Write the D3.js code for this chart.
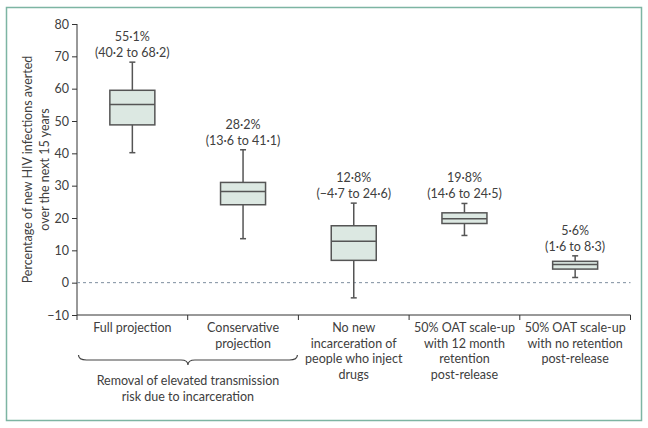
<!DOCTYPE html>
<html>
<head>
<meta charset="utf-8">
<script src="https://cdn.jsdelivr.net/npm/d3@7"></script>
<style>
  body { margin: 0; background: #fff; }
  svg text { font-family: Lato, "Open Sans", sans-serif; fill: #404040; }
</style>
</head>
<body>
<svg id="chart" width="648" height="428"></svg>
<script>
// data
const categories = [
    ["Full projection"],
    ["Conservative", "projection"],
    ["No new", "incarceration of", "people who inject", "drugs"],
    ["50% OAT scale-up", "with 12 month", "retention", "post-release"],
    ["50% OAT scale-up", "with no retention", "post-release"]
];
const medians   = [55.1, 28.2, 12.8, 19.8, 5.6];
const q1s       = [48.8, 24.1, 6.9, 18.3, 4.2];
const q3s       = [59.5, 31.0, 17.6, 21.6, 6.6];
const lows      = [40.2, 13.6, -4.7, 14.6, 1.6];
const highs     = [68.2, 41.1, 24.6, 24.5, 8.3];
const pctLabels = ["55·1%", "28·2%", "12·8%", "19·8%", "5·6%"];
const rangeLabels = ["(40·2 to 68·2)", "(13·6 to 41·1)", "(\u22124·7 to 24·6)", "(14·6 to 24·5)", "(1·6 to 8·3)"];
const yTicks = [-10, 0, 10, 20, 30, 40, 50, 60, 70, 80];
const yTitle = ["Percentage of new HIV infections averted", "over the next 15 years"];
const groupLabel = ["Removal of elevated transmission", "risk due to incarceration"];

const svg = d3.select("#chart");

// outer frame
svg.append("rect")
    .attr("x", 6.5).attr("y", 7.5).attr("width", 635).attr("height", 413)
    .attr("fill", "none").attr("stroke", "#7db5a3").attr("stroke-width", 1.5);

const x = d3.scaleBand().domain(d3.range(categories.length)).range([77, 630.5]).paddingInner(0).paddingOuter(0);
const y = d3.scaleLinear().domain([-10, 80]).range([315, 24]);

const fmt = v => (v < 0 ? "\u2212" : "") + Math.abs(v);

// y axis
const yAxis = svg.append("g").attr("transform", "translate(77,0)")
    .call(d3.axisLeft(y).tickValues(yTicks).tickSize(5).tickPadding(3).tickFormat(fmt));
yAxis.select(".domain").attr("d", `M0,${y(80)}V${y(-10) + 5}`).attr("stroke", "#333");
yAxis.selectAll(".tick line").attr("stroke", "#333");
yAxis.selectAll(".tick text")
    .attr("font-family", "Lato, sans-serif").attr("font-size", 12.5).attr("fill", "#404040");

// x axis (ticks at band boundaries)
const bounds = d3.range(categories.length + 1).map(i => i < categories.length ? x(i) : x(i - 1) + x.bandwidth());
const xg = svg.append("g");
xg.append("line")
    .attr("x1", bounds[0]).attr("x2", bounds[bounds.length - 1])
    .attr("y1", y(-10)).attr("y2", y(-10)).attr("stroke", "#333");
xg.selectAll(".xt").data(bounds.slice(1)).enter().append("line")
    .attr("x1", d => d).attr("x2", d => d)
    .attr("y1", y(-10)).attr("y2", y(-10) + 5).attr("stroke", "#333");

// zero line
svg.append("line")
    .attr("x1", 77).attr("x2", bounds[bounds.length - 1])
    .attr("y1", y(0)).attr("y2", y(0))
    .attr("stroke", "#7d8e9e").attr("stroke-width", 1).attr("stroke-dasharray", "3,3");

// y title
const yt = svg.append("text")
    .attr("transform", `translate(32,${y(35)}) rotate(-90)`)
    .attr("text-anchor", "middle").attr("font-size", 12.5);
yTitle.forEach((t, i) => yt.append("tspan").attr("x", 0).attr("dy", i === 0 ? 0 : 16.5).text(t));

// boxes
const boxW = 45, capW = 6;
const boxes = svg.selectAll(".box").data(d3.range(categories.length)).enter().append("g")
    .attr("class", "box")
    .attr("transform", i => `translate(${x(i) + x.bandwidth() / 2},0)`);

boxes.append("line")
    .attr("x1", 0).attr("x2", 0)
    .attr("y1", i => y(lows[i])).attr("y2", i => y(highs[i]))
    .attr("stroke", "#555").attr("stroke-width", 1.5);
boxes.append("line")
    .attr("x1", -capW / 2).attr("x2", capW / 2)
    .attr("y1", i => y(lows[i])).attr("y2", i => y(lows[i]))
    .attr("stroke", "#555").attr("stroke-width", 1.5);
boxes.append("line")
    .attr("x1", -capW / 2).attr("x2", capW / 2)
    .attr("y1", i => y(highs[i])).attr("y2", i => y(highs[i]))
    .attr("stroke", "#555").attr("stroke-width", 1.5);
boxes.append("rect")
    .attr("x", -boxW / 2).attr("width", boxW)
    .attr("y", i => y(q3s[i])).attr("height", i => y(q1s[i]) - y(q3s[i]))
    .attr("fill", "#dce8e2").attr("stroke", "#555").attr("stroke-width", 1.5);
boxes.append("line")
    .attr("x1", -boxW / 2).attr("x2", boxW / 2)
    .attr("y1", i => y(medians[i])).attr("y2", i => y(medians[i]))
    .attr("stroke", "#555").attr("stroke-width", 1.5);

// value labels
boxes.append("text")
    .attr("text-anchor", "middle").attr("font-size", 12.5)
    .attr("y", i => y(highs[i]) - 21)
    .text(i => pctLabels[i]);
boxes.append("text")
    .attr("text-anchor", "middle").attr("font-size", 12.5)
    .attr("y", i => y(highs[i]) - 5)
    .text(i => rangeLabels[i]);

// category labels
const catG = svg.selectAll(".cat").data(categories).enter().append("text")
    .attr("class", "cat")
    .attr("text-anchor", "middle").attr("font-size", 12.5)
    .attr("transform", (d, i) => `translate(${x(i) + x.bandwidth() / 2},${y(-10) + 17})`);
catG.each(function (lines) {
    const t = d3.select(this);
    lines.forEach((l, j) => t.append("tspan").attr("x", 0).attr("dy", j === 0 ? 0 : 15.6).text(l));
});

// brace under first two categories
const bx0 = x(0) + 1.5, bx1 = x(1) + x.bandwidth() - 1, bm = (bx0 + bx1) / 2;
const by = 355, bh = 5;
svg.append("path")
    .attr("d", `M${bx0},${by} Q${bx0},${by + bh} ${bx0 + 8},${by + bh}` +
        ` L${bm - 7},${by + bh} Q${bm},${by + bh} ${bm},${by + 2 * bh}` +
        ` Q${bm},${by + bh} ${bm + 7},${by + bh}` +
        ` L${bx1 - 8},${by + bh} Q${bx1},${by + bh} ${bx1},${by}`)
    .attr("fill", "none").attr("stroke", "#444").attr("stroke-width", 1.2);

const gl = svg.append("text")
    .attr("text-anchor", "middle").attr("font-size", 12.5)
    .attr("transform", `translate(${bm},385)`);
groupLabel.forEach((t, i) => gl.append("tspan").attr("x", 0).attr("dy", i === 0 ? 0 : 15.5).text(t));
</script>
</body>
</html>
